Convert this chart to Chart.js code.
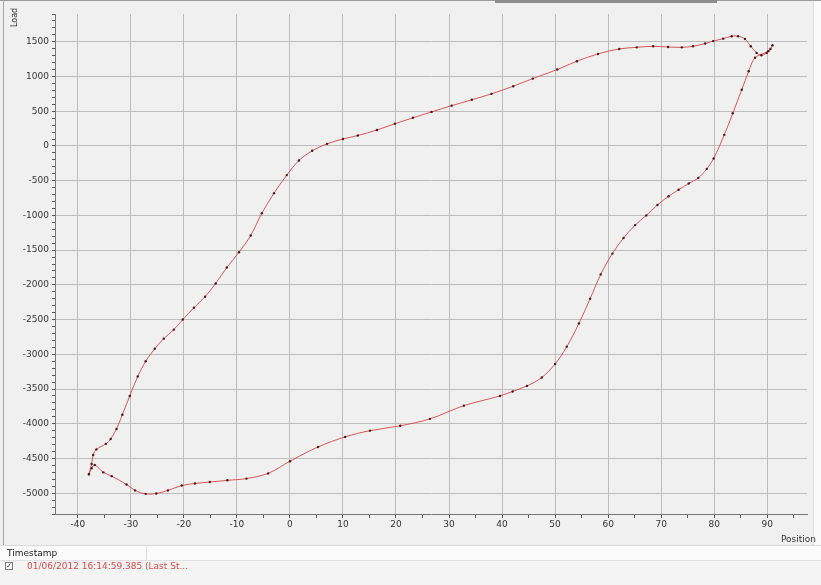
<!DOCTYPE html>
<html>
<head>
<meta charset="utf-8">
<script src="https://cdn.jsdelivr.net/npm/chart.js@4.4.1/dist/chart.umd.min.js"></script>
<style>
  body { margin: 0; background: #f0f0f0; font-family: "DejaVu Sans", Verdana, sans-serif; }
  #wrap { position: relative; width: 821px; height: 585px; overflow: hidden; }
  #chart-box { position: absolute; left: 0; top: 0; width: 821px; height: 545px; }
  .lbl { position: absolute; font-size: 9px; color: #333; }
  #load { left: 10px; top: 27px; font-size: 8px; transform: rotate(-90deg); transform-origin: left top; }
  #position { left: 781px; top: 534px; }
  #topbar { position: absolute; left: 0; top: 0; width: 821px; height: 1px; background: #9a9a9a; }
  #topbar2 { position: absolute; left: 495px; top: 0; width: 222px; height: 3px; background: #8c8c8c; }
  #leftline { position: absolute; left: 3px; top: 1px; width: 1px; height: 584px; background: #a8a8a8; }
  #rightline { position: absolute; left: 813px; top: 1px; width: 8px; height: 544px; background: #fafafa; border-left: 1px solid #dcdcdc; }
  #panel { position: absolute; left: 0; top: 545px; width: 821px; height: 40px; background: #f4f4f4; border-top: 1px solid #d8d8d8; }
  #hdr { position: absolute; left: 0; top: 0; width: 821px; height: 14px; background: #fbfbfb; border-bottom: 1px solid #e2e2e2; }
  #hdr span { position: absolute; left: 7px; top: 2px; font-size: 9px; color: #222; }
  #coldiv { position: absolute; left: 146px; top: 0; width: 1px; height: 14px; background: #dedede; }
  #chk { position: absolute; left: 5px; top: 16px; width: 6px; height: 6px; border: 1px solid #777; background: #fff; font-size: 7px; line-height: 6px; color: #333; text-align: center; }
  #row { position: absolute; left: 27px; top: 15px; font-size: 9px; color: #d84a4a; }
</style>
</head>
<body>
<div id="wrap">
  <div id="chart-box"><canvas id="chart-load"></canvas></div>
  <div id="topbar"></div>
  <div id="topbar2"></div>
  <div id="leftline"></div>
  <div id="rightline"></div>
  <div class="lbl" id="load">Load</div>
  <div class="lbl" id="position">Position</div>
  <div id="panel">
    <div id="hdr"><span>Timestamp</span><div id="coldiv"></div></div>
    <div id="chk">✓</div>
    <div id="row">01/06/2012 16:14:59.385 (Last St...</div>
  </div>
</div>
<script>
// Upper branch, left to right
const upperPos = [-37.9, -37.4, -37.1, -36.5, -34.7, -33.8, -32.7, -31.6, -30.2, -28.7, -27.2, -25.5, -23.8, -21.9,
    -20.2, -18.1, -16.0, -14.0, -11.9, -9.6, -7.4, -5.3, -3.0, -0.6, 1.7, 4.2, 7.0, 10.0, 12.8, 16.4, 19.8, 23.2,
    26.7, 30.5, 34.3, 38.0, 42.1, 45.8, 50.4, 54.1, 58.1, 62.1, 65.4, 68.5, 71.3, 73.9, 76.0, 78.3, 79.8, 81.7,
    83.3, 84.5, 85.8, 86.9, 88.0, 88.9, 89.9, 90.6, 91.0];
const upperLoad = [-4725, -4580, -4450, -4370, -4290, -4220, -4075, -3870, -3600, -3320, -3100, -2920, -2775, -2645,
    -2500, -2330, -2170, -1980, -1750, -1530, -1290, -970, -680, -420, -210, -70, 30, 100, 150, 230, 320, 405,
    490, 580, 665, 750, 860, 970, 1100, 1220, 1325, 1397, 1420, 1435, 1425, 1420, 1435, 1475, 1510, 1545,
    1580, 1580, 1540, 1435, 1340, 1305, 1340, 1397, 1450];

// Lower branch, right to left
const lowerPos = [90.2, 87.7, 86.5, 85.2, 83.5, 81.9, 79.9, 78.6, 77.0, 75.2, 73.3, 71.4, 69.3, 67.2, 65.1, 62.9,
    60.8, 58.6, 56.6, 54.5, 52.2, 50.0, 47.5, 44.7, 42.0, 39.6, 32.8, 26.4, 20.8, 15.1, 10.4, 5.3, 0.0, -4.1,
    -8.2, -11.8, -15.1, -17.9, -20.4, -23.0, -25.2, -27.2, -29.2, -30.8, -33.6, -35.2, -36.8, -37.4, -37.9];
const lowerLoad = [1365, 1270, 1075, 810, 470, 160, -180, -330, -460, -540, -630, -725, -850, -1000, -1140, -1325,
    -1550, -1850, -2200, -2555, -2890, -3140, -3335, -3455, -3535, -3600, -3740, -3930, -4030, -4100, -4190, -4335, -4540, -4715,
    -4790, -4815, -4840, -4860, -4890, -4960, -5005, -5010, -4960, -4875, -4755, -4700, -4595, -4640, -4730];

const posMin = -44.3, posMax = 97.5;
const loadMin = -5300, loadMax = 1900;

const points = [];
upperPos.forEach((x, i) => points.push({ x: x, y: upperLoad[i] }));
lowerPos.forEach((x, i) => points.push({ x: x, y: lowerLoad[i] }));

const isMult = (v, m) => Math.abs(v / m - Math.round(v / m)) < 1e-6;
const font = { family: '"DejaVu Sans", Verdana, sans-serif', size: 9 };

new Chart(document.getElementById('chart-load'), {
    type: 'scatter',
    data: {
        datasets: [{
            data: points,
            showLine: true,
            tension: 0.35,
            borderColor: 'rgba(215, 70, 70, 0.9)',
            borderWidth: 1,
            pointRadius: 1.2,
            pointBackgroundColor: '#4a1a1a',
            pointBorderWidth: 0,
            pointHoverRadius: 1.2
        }]
    },
    options: {
        responsive: true,
        maintainAspectRatio: false,
        animation: false,
        layout: { padding: { top: 14, right: 14, left: 0, bottom: 0 } },
        plugins: { legend: { display: false }, tooltip: { enabled: false } },
        scales: {
            x: {
                type: 'linear',
                min: posMin,
                max: posMax,
                afterBuildTicks: (axis) => { axis.ticks = axis.ticks.filter(t => isMult(t.value, 5)); },
                afterFit: (scale) => { scale.height = 31; },
                ticks: {
                    stepSize: 5,
                    includeBounds: false,
                    autoSkip: false,
                    maxRotation: 0,
                    padding: 1,
                    color: '#333',
                    font: font,
                    callback: (v) => isMult(v, 10) ? Math.round(v) : ''
                },
                grid: {
                    color: (c) => c.tick && isMult(c.tick.value, 10) ? '#bdbdbd' : 'rgba(0,0,0,0)',
                    tickColor: '#555',
                    tickLength: 4
                },
                border: { color: '#777', width: 1 }
            },
            y: {
                type: 'linear',
                min: loadMin,
                max: loadMax,
                afterBuildTicks: (axis) => { axis.ticks = axis.ticks.filter(t => isMult(t.value, 100)); },
                afterFit: (scale) => { scale.width = 55; },
                ticks: {
                    stepSize: 100,
                    includeBounds: false,
                    autoSkip: false,
                    padding: 3,
                    color: '#333',
                    font: font,
                    callback: (v) => isMult(v, 500) ? Math.round(v) : ''
                },
                grid: {
                    color: (c) => c.tick && isMult(c.tick.value, 500) ? '#bdbdbd' : 'rgba(0,0,0,0)',
                    tickColor: '#555',
                    tickLength: 3
                },
                border: { color: '#777', width: 1 }
            }
        }
    }
});
</script>
</body>
</html>
